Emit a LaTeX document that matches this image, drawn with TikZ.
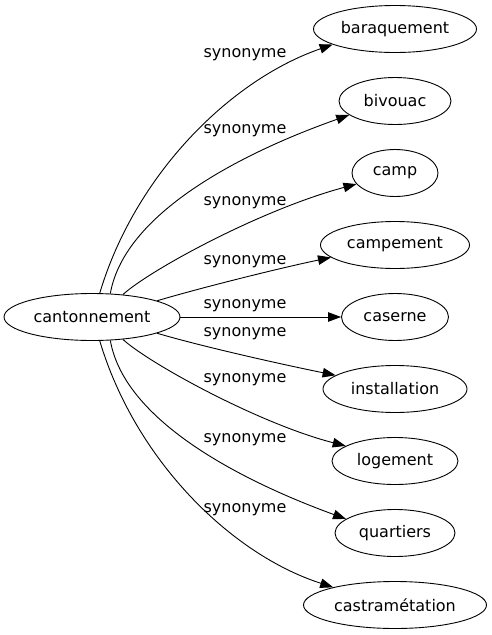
\documentclass[tikz,border=0pt]{standalone}
\usepackage{fontspec}
\setmainfont{DejaVu Sans}
\usepackage{tikz}
\usetikzlibrary{shapes.geometric,arrows.meta}

\begin{document}
\begin{tikzpicture}[x=1pt,y=-1pt,
  word/.style={draw, ellipse, inner sep=0pt, minimum height=47pt, line width=0.9pt,
    font=\fontsize{16}{19}\selectfont},
  lbl/.style={inner sep=0pt, font=\fontsize{16}{19}\selectfont},
  syn/.style={draw, line width=0.9pt, -{Triangle[length=13pt,width=9.5pt]}}]
\useasboundingbox (0,0) rectangle (491,635);
% centre word
\node[word, minimum width=176pt] (cant) at (92,317) {cantonnement};
% synonyms, one per row
\foreach \w/\wid [count=\i] in {baraquement/163, bivouac/112, camp/86,
    campement/149, caserne/107, installation/144, logement/126,
    quartiers/120, castramétation/183}{
  \node[word, minimum width=\wid pt] (s\i) at (395,{29+72*(\i-1)}) {\w};
}
% edge labels
\foreach \y [count=\i] in {55,131,203,262,306,334,380,440,510}{
  \node[lbl] (l\i) at (245,\y) {synonyme};
}
% edges
\draw[syn] (cant.72) .. controls (135,175) and (230,80) .. (s1.194);
\draw[syn] (cant.52) .. controls (125,210) and (250,150) .. (s2.197);
\draw[syn] (cant.36) .. controls (150,270) and (260,210) .. (s3.196);
\draw[syn] (cant.14) .. controls (200,288) and (280,268) .. (s4.191);
\draw[syn] (cant.east) -- (s5.west);
\draw[syn] (cant.-14) .. controls (200,346) and (280,364) .. (s6.167);
\draw[syn] (cant.-36) .. controls (150,364) and (260,424) .. (s7.163);
\draw[syn] (cant.-52) .. controls (125,424) and (250,484) .. (s8.164);
\draw[syn] (cant.-72) .. controls (135,459) and (230,554) .. (s9.164);
\end{tikzpicture}
\end{document}
